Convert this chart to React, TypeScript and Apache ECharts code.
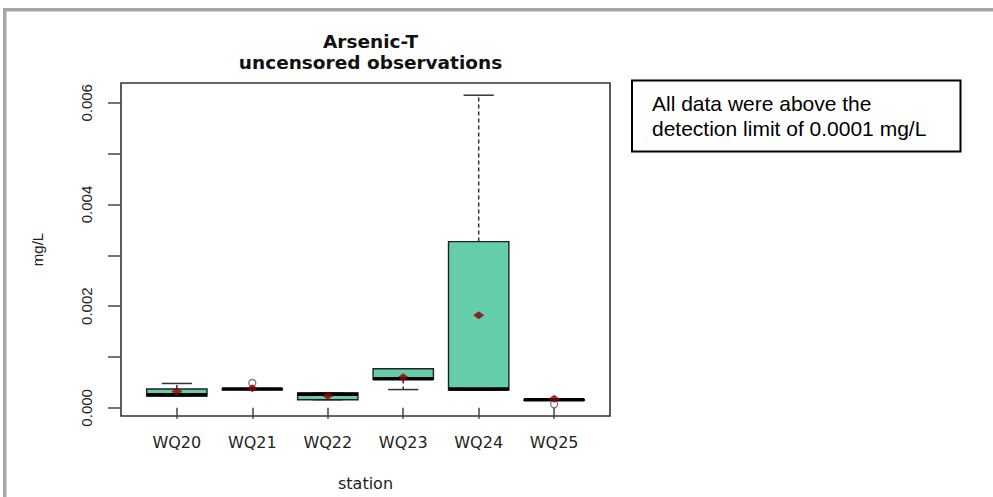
import React, { useEffect, useRef } from "react";
import * as echarts from "echarts";

const stations = ["WQ20", "WQ21", "WQ22", "WQ23", "WQ24", "WQ25"];
const whiskerLow = [0.00023, 0.00037, 0.00016, 0.00036, 0.00035, 0.00016];
const q1 = [0.00023, 0.00037, 0.00016, 0.00056, 0.00035, 0.00016];
const median = [0.00026, 0.00037, 0.000267, 0.000575, 0.00037, 0.00016];
const q3 = [0.00037, 0.00037, 0.000294, 0.00077, 0.00327, 0.00016];
const whiskerHigh = [0.00048, 0.00037, 0.000294, 0.00077, 0.00615, 0.00016];
const means = [0.00032, 0.000385, 0.000236, 0.0006, 0.00182, 0.000177];
const outlierStations = ["WQ21", "WQ25"];
const outlierValues = [0.00049, 0.00007];
const yTickValues = [0, 0.001, 0.002, 0.003, 0.004, 0.005, 0.006];
const yLabelValues = [0, 0.002, 0.004, 0.006];
const titleLines = ["Arsenic-T", "uncensored observations"];
const noteLines = ["All data were above the", "detection limit of 0.0001 mg/L"];

export default function App() {
  const ref = useRef<HTMLDivElement>(null);
  useEffect(() => {
    if (!ref.current) return;
    const chart = echarts.init(ref.current, null, { renderer: "svg" });
    const pos = stations.map((_, i) => i + 1);
    const boxData = stations.map((_, i) => [
      pos[i],
      whiskerLow[i],
      q1[i],
      median[i],
      q3[i],
      whiskerHigh[i],
    ]);
    const outlierData = outlierStations.map((s, i) => [
      stations.indexOf(s) + 1,
      outlierValues[i],
    ]);
    const meanData = means.map((m, i) => [pos[i], m]);

    const option: any = {
      animation: false,
      backgroundColor: "#ffffff",
      title: {
        text: titleLines.join("\n"),
        left: 365.5,
        top: 26,
        textAlign: "center",
        textStyle: {
          fontFamily: "DejaVu Sans",
          fontWeight: "bold",
          fontSize: 18.5,
          lineHeight: 21,
          color: "#111",
        },
      },
      grid: {
        left: 121,
        top: 83,
        width: 489,
        height: 333,
        show: true,
        borderColor: "#333",
        borderWidth: 1.6,
        backgroundColor: "transparent",
      },
      xAxis: {
        type: "value",
        min: 0.26,
        max: 6.74,
        name: "station",
        nameLocation: "middle",
        nameGap: 59,
        nameTextStyle: { fontFamily: "DejaVu Sans", fontSize: 16, color: "#222" },
        axisLine: { show: false },
        splitLine: { show: false },
        axisTick: {
          show: true,
          length: 11,
          customValues: pos,
          lineStyle: { color: "#444", width: 1.5 },
        },
        axisLabel: {
          customValues: pos,
          margin: 18,
          fontFamily: "DejaVu Sans",
          fontSize: 16,
          color: "#222",
          formatter: (v: number) => stations[Math.round(v) - 1] ?? "",
        },
      },
      yAxis: {
        type: "value",
        min: -0.00016,
        max: 0.00639,
        name: "mg/L",
        nameLocation: "middle",
        nameGap: 76,
        nameRotate: 90,
        nameTextStyle: { fontFamily: "Liberation Sans", fontSize: 15, color: "#222" },
        axisLine: { show: false },
        splitLine: { show: false },
        axisTick: {
          show: true,
          length: 13,
          customValues: yTickValues,
          lineStyle: { color: "#444", width: 1.5 },
        },
        axisLabel: {
          customValues: yLabelValues,
          rotate: 90,
          margin: 27,
          fontFamily: "Liberation Sans",
          fontSize: 15,
          color: "#222",
          formatter: (v: number) => v.toFixed(3),
        },
      },
      series: [
        {
          type: "custom",
          z: 2,
          data: boxData,
          encode: { x: 0, y: [1, 2, 3, 4, 5] },
          renderItem: (params: any, api: any) => {
            const x = api.value(0);
            const lo = api.value(1);
            const a = api.value(2);
            const m = api.value(3);
            const b = api.value(4);
            const hi = api.value(5);
            const boxHalf = api.size([0.4, 0])[0];
            const capHalf = api.size([0.2, 0])[0];
            const pLo = api.coord([x, lo]);
            const pA = api.coord([x, a]);
            const pM = api.coord([x, m]);
            const pB = api.coord([x, b]);
            const pHi = api.coord([x, hi]);
            const cx = pA[0];
            const wStyle = { stroke: "#333", lineWidth: 1.5, lineDash: [4, 3] };
            const cStyle = { stroke: "#333", lineWidth: 1.5 };
            const children: any[] = [];
            if (hi > b)
              children.push({
                type: "line",
                shape: { x1: cx, y1: pB[1], x2: cx, y2: pHi[1] },
                style: wStyle,
              });
            if (lo < a)
              children.push({
                type: "line",
                shape: { x1: cx, y1: pA[1], x2: cx, y2: pLo[1] },
                style: wStyle,
              });
            children.push({
              type: "line",
              shape: { x1: cx - capHalf, y1: pHi[1], x2: cx + capHalf, y2: pHi[1] },
              style: cStyle,
            });
            children.push({
              type: "line",
              shape: { x1: cx - capHalf, y1: pLo[1], x2: cx + capHalf, y2: pLo[1] },
              style: cStyle,
            });
            children.push({
              type: "rect",
              shape: {
                x: cx - boxHalf,
                y: pB[1],
                width: boxHalf * 2,
                height: Math.max(pA[1] - pB[1], 0.5),
              },
              style: { fill: "#66CDAA", stroke: "#222", lineWidth: 1.4 },
            });
            children.push({
              type: "line",
              shape: { x1: cx - boxHalf, y1: pM[1], x2: cx + boxHalf, y2: pM[1] },
              style: { stroke: "#000", lineWidth: 3.5 },
            });
            return { type: "group", children };
          },
        },
        {
          type: "scatter",
          z: 3,
          data: outlierData,
          symbol: "circle",
          symbolSize: 7,
          itemStyle: { color: "rgba(0,0,0,0)", borderColor: "#555", borderWidth: 1.3 },
        },
        {
          type: "scatter",
          z: 4,
          data: meanData,
          symbol: "diamond",
          symbolSize: [11, 8],
          itemStyle: { color: "#8B0000" },
        },
      ],
      graphic: [
        {
          type: "rect",
          shape: { x: 3, y: 8, width: 990, height: 3.5 },
          style: { fill: "#A6A6A6" },
          silent: true,
        },
        {
          type: "rect",
          shape: { x: 3, y: 8, width: 3.5, height: 489 },
          style: { fill: "#A6A6A6" },
          silent: true,
        },
        {
          type: "rect",
          shape: { x: 632, y: 80.5, width: 328.5, height: 71 },
          style: { fill: "#fff", stroke: "#000", lineWidth: 2 },
        },
        {
          type: "text",
          x: 652,
          y: 91,
          style: {
            text: noteLines.join("\n"),
            fontFamily: "Liberation Sans",
            fontSize: 21,
            lineHeight: 25,
            fill: "#000",
            textVerticalAlign: "top",
          },
        },
      ],
    };
    chart.setOption(option);
    return () => chart.dispose();
  }, []);
  return (
    <div
      ref={ref}
      style={{ position: "fixed", left: 0, top: 0, width: 993, height: 497, background: "#fff" }}
    />
  );
}
